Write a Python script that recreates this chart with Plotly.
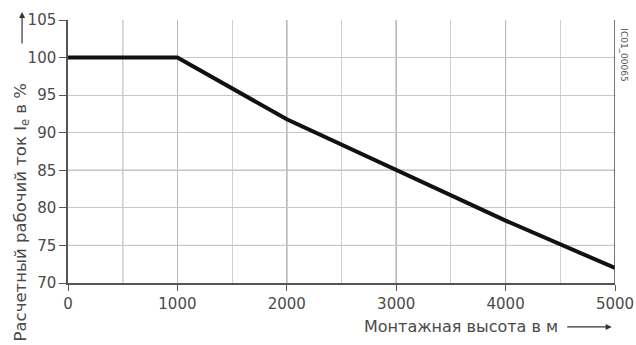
import plotly.graph_objects as go

altitude_m = [0, 1000, 2000, 3000, 4000, 5000]
current_pct = [100, 100, 91.8, 85, 78.3, 72]

x_ticks = [0, 1000, 2000, 3000, 4000, 5000]
y_ticks = [70, 75, 80, 85, 90, 95, 100, 105]
dark_x_grid = [500, 2000, 3000, 4000]
dark_y_grid = [75, 85]

FONT = "DejaVu Sans, Verdana, sans-serif"

fig = go.Figure()
fig.add_trace(go.Scatter(x=altitude_m, y=current_pct, mode="lines",
                         line=dict(color="#111111", width=4), showlegend=False))

shapes = []
for xv in dark_x_grid:
    shapes.append(dict(type="line", xref="x", yref="y", x0=xv, x1=xv, y0=70, y1=105,
                       line=dict(color="#666666", width=1), layer="below"))
for yv in dark_y_grid:
    shapes.append(dict(type="line", xref="x", yref="y", x0=0, x1=5000, y0=yv, y1=yv,
                       line=dict(color="#666666", width=1), layer="below"))
shapes.append(dict(type="line", xref="x", yref="y", x0=5000, x1=5000, y0=70, y1=105,
                   line=dict(color="#444444", width=1.5)))

fig.update_layout(
    width=636, height=345,
    margin=dict(l=68, r=21, t=20, b=62),
    paper_bgcolor="white", plot_bgcolor="white",
    font=dict(family=FONT, size=15, color="#4a4a4a"),
    shapes=shapes,
    xaxis=dict(range=[0, 5000], tickvals=x_ticks, ticktext=[str(v) for v in x_ticks],
               automargin=False, ticklabeloverflow="allow",
               showgrid=True, gridcolor="#bbbbbb", gridwidth=1,
               minor=dict(dtick=500, showgrid=True, gridcolor="#d0d0d0", gridwidth=1),
               showline=True, linecolor="#555555", linewidth=1.5,
               ticks="outside", ticklen=6, tickcolor="#555555",
               zeroline=False, fixedrange=True),
    yaxis=dict(range=[70, 105], tickvals=y_ticks, ticktext=[str(v) for v in y_ticks],
               automargin=False,
               showgrid=True, gridcolor="#c8c8c8", gridwidth=1,
               showline=True, linecolor="#555555", linewidth=1.5,
               ticks="outside", ticklen=7, tickcolor="#555555",
               zeroline=False, fixedrange=True),
    annotations=[
        dict(text="Монтажная высота в м", xref="paper", yref="paper",
             x=0.9, y=-0.167, xanchor="right", yanchor="middle", showarrow=False,
             font=dict(size=16, color="#4a4a4a")),
        dict(x=0.994, y=-0.167, ax=-46, ay=0, xref="paper", yref="paper",
             text="", showarrow=True,
             arrowhead=2, arrowsize=1, arrowwidth=1.2, arrowcolor="#333333"),
        dict(text="Расчетный рабочий ток I<sub>e</sub> в %", xref="paper", yref="paper",
             x=-0.085, y=0.27, xanchor="center", yanchor="middle", textangle=-90,
             showarrow=False, font=dict(size=16.5, color="#4a4a4a")),
        dict(x=-0.084, y=1.03, ax=0, ay=33, xref="paper", yref="paper",
             text="", showarrow=True,
             arrowhead=2, arrowsize=1, arrowwidth=1.2, arrowcolor="#333333"),
        dict(text="IC01_00065", xref="paper", yref="paper",
             x=1.016, y=0.867, xanchor="center", yanchor="middle", textangle=90,
             showarrow=False, font=dict(size=9, color="#555555")),
    ],
)

fig.write_html("out.html", config={"displayModeBar": False},
               post_script="document.body.style.margin='0';")
